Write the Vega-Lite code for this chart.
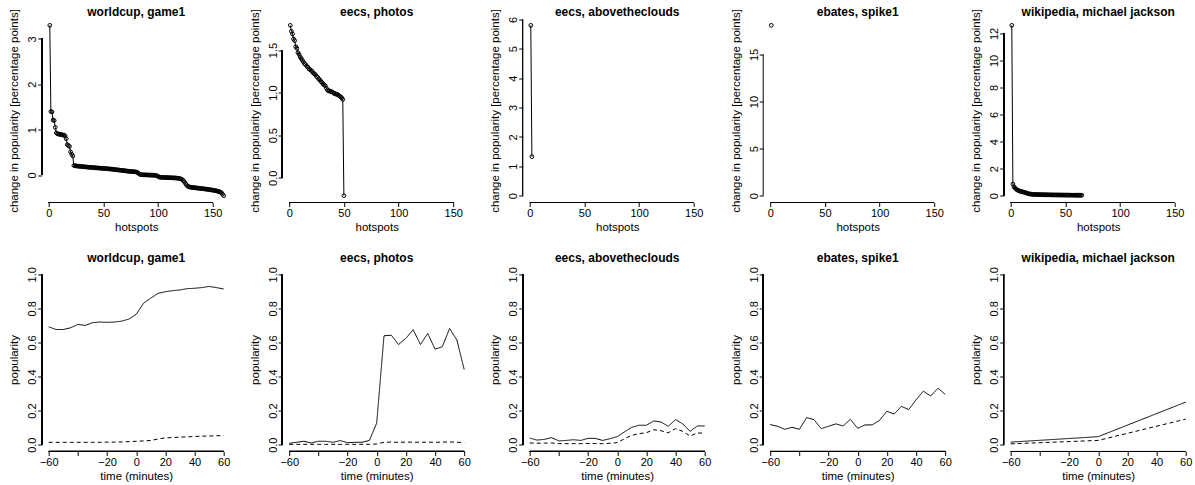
{
"$schema": "https://vega.github.io/schema/vega-lite/v6.json",
"background": "white",
"padding": {"left": 8.7, "top": 5.5, "right": 0, "bottom": 0},
"columns": 5,
"spacing": {"row": 65, "column": 51.5},
"bounds": "flush",
"resolve": {"scale": {"x": "independent", "y": "independent", "strokeDash": "shared"}},
"datasets": {
"top1": [{"hotspot":1,"change":3.30},{"hotspot":2,"change":1.40},{"hotspot":3,"change":1.39},{"hotspot":4,"change":1.21},{"hotspot":5,"change":1.20},{"hotspot":6,"change":1.05},{"hotspot":7,"change":0.93},{"hotspot":8,"change":0.91},{"hotspot":9,"change":0.90},{"hotspot":10,"change":0.90},{"hotspot":11,"change":0.89},{"hotspot":12,"change":0.89},{"hotspot":13,"change":0.88},{"hotspot":14,"change":0.88},{"hotspot":15,"change":0.86},{"hotspot":16,"change":0.80},{"hotspot":17,"change":0.67},{"hotspot":18,"change":0.65},{"hotspot":19,"change":0.63},{"hotspot":20,"change":0.51},{"hotspot":21,"change":0.46},{"hotspot":22,"change":0.42},{"hotspot":23,"change":0.21},{"hotspot":24,"change":0.205},{"hotspot":25,"change":0.200},{"hotspot":26,"change":0.197},{"hotspot":27,"change":0.195},{"hotspot":28,"change":0.192},{"hotspot":29,"change":0.190},{"hotspot":30,"change":0.187},{"hotspot":31,"change":0.185},{"hotspot":32,"change":0.182},{"hotspot":33,"change":0.180},{"hotspot":34,"change":0.178},{"hotspot":35,"change":0.175},{"hotspot":36,"change":0.173},{"hotspot":37,"change":0.171},{"hotspot":38,"change":0.169},{"hotspot":39,"change":0.167},{"hotspot":40,"change":0.165},{"hotspot":41,"change":0.163},{"hotspot":42,"change":0.161},{"hotspot":43,"change":0.159},{"hotspot":44,"change":0.157},{"hotspot":45,"change":0.155},{"hotspot":46,"change":0.153},{"hotspot":47,"change":0.151},{"hotspot":48,"change":0.149},{"hotspot":49,"change":0.147},{"hotspot":50,"change":0.145},{"hotspot":51,"change":0.143},{"hotspot":52,"change":0.141},{"hotspot":53,"change":0.139},{"hotspot":54,"change":0.137},{"hotspot":55,"change":0.135},{"hotspot":56,"change":0.133},{"hotspot":57,"change":0.131},{"hotspot":58,"change":0.128},{"hotspot":59,"change":0.125},{"hotspot":60,"change":0.122},{"hotspot":61,"change":0.119},{"hotspot":62,"change":0.116},{"hotspot":63,"change":0.113},{"hotspot":64,"change":0.110},{"hotspot":65,"change":0.107},{"hotspot":66,"change":0.104},{"hotspot":67,"change":0.101},{"hotspot":68,"change":0.098},{"hotspot":69,"change":0.095},{"hotspot":70,"change":0.092},{"hotspot":71,"change":0.089},{"hotspot":72,"change":0.086},{"hotspot":73,"change":0.083},{"hotspot":74,"change":0.080},{"hotspot":75,"change":0.078},{"hotspot":76,"change":0.076},{"hotspot":77,"change":0.074},{"hotspot":78,"change":0.072},{"hotspot":79,"change":0.070},{"hotspot":80,"change":0.066},{"hotspot":81,"change":0.058},{"hotspot":82,"change":0.040},{"hotspot":83,"change":0.020},{"hotspot":84,"change":0.010},{"hotspot":85,"change":0.007},{"hotspot":86,"change":0.005},{"hotspot":87,"change":0.004},{"hotspot":88,"change":0.003},{"hotspot":89,"change":0.002},{"hotspot":90,"change":0.001},{"hotspot":91,"change":0.000},{"hotspot":92,"change":-0.001},{"hotspot":93,"change":-0.002},{"hotspot":94,"change":-0.003},{"hotspot":95,"change":-0.004},{"hotspot":96,"change":-0.005},{"hotspot":97,"change":-0.006},{"hotspot":98,"change":-0.010},{"hotspot":99,"change":-0.018},{"hotspot":100,"change":-0.030},{"hotspot":101,"change":-0.045},{"hotspot":102,"change":-0.050},{"hotspot":103,"change":-0.052},{"hotspot":104,"change":-0.053},{"hotspot":105,"change":-0.054},{"hotspot":106,"change":-0.055},{"hotspot":107,"change":-0.056},{"hotspot":108,"change":-0.057},{"hotspot":109,"change":-0.058},{"hotspot":110,"change":-0.059},{"hotspot":111,"change":-0.060},{"hotspot":112,"change":-0.061},{"hotspot":113,"change":-0.062},{"hotspot":114,"change":-0.063},{"hotspot":115,"change":-0.064},{"hotspot":116,"change":-0.066},{"hotspot":117,"change":-0.068},{"hotspot":118,"change":-0.071},{"hotspot":119,"change":-0.075},{"hotspot":120,"change":-0.080},{"hotspot":121,"change":-0.088},{"hotspot":122,"change":-0.100},{"hotspot":123,"change":-0.120},{"hotspot":124,"change":-0.150},{"hotspot":125,"change":-0.185},{"hotspot":126,"change":-0.220},{"hotspot":127,"change":-0.245},{"hotspot":128,"change":-0.258},{"hotspot":129,"change":-0.265},{"hotspot":130,"change":-0.270},{"hotspot":131,"change":-0.273},{"hotspot":132,"change":-0.276},{"hotspot":133,"change":-0.279},{"hotspot":134,"change":-0.282},{"hotspot":135,"change":-0.285},{"hotspot":136,"change":-0.288},{"hotspot":137,"change":-0.291},{"hotspot":138,"change":-0.294},{"hotspot":139,"change":-0.297},{"hotspot":140,"change":-0.300},{"hotspot":141,"change":-0.303},{"hotspot":142,"change":-0.306},{"hotspot":143,"change":-0.309},{"hotspot":144,"change":-0.312},{"hotspot":145,"change":-0.315},{"hotspot":146,"change":-0.318},{"hotspot":147,"change":-0.322},{"hotspot":148,"change":-0.326},{"hotspot":149,"change":-0.330},{"hotspot":150,"change":-0.334},{"hotspot":151,"change":-0.338},{"hotspot":152,"change":-0.343},{"hotspot":153,"change":-0.348},{"hotspot":154,"change":-0.354},{"hotspot":155,"change":-0.360},{"hotspot":156,"change":-0.368},{"hotspot":157,"change":-0.378},{"hotspot":158,"change":-0.392},{"hotspot":159,"change":-0.425},{"hotspot":160,"change":-0.456}],
"top2": [{"hotspot":1,"change":1.79},{"hotspot":2,"change":1.72},{"hotspot":3,"change":1.69},{"hotspot":4,"change":1.63},{"hotspot":5,"change":1.61},{"hotspot":6,"change":1.54},{"hotspot":7,"change":1.52},{"hotspot":8,"change":1.47},{"hotspot":9,"change":1.45},{"hotspot":10,"change":1.42},{"hotspot":11,"change":1.40},{"hotspot":12,"change":1.38},{"hotspot":13,"change":1.36},{"hotspot":14,"change":1.34},{"hotspot":15,"change":1.33},{"hotspot":16,"change":1.31},{"hotspot":17,"change":1.30},{"hotspot":18,"change":1.28},{"hotspot":19,"change":1.27},{"hotspot":20,"change":1.26},{"hotspot":21,"change":1.25},{"hotspot":22,"change":1.23},{"hotspot":23,"change":1.22},{"hotspot":24,"change":1.21},{"hotspot":25,"change":1.19},{"hotspot":26,"change":1.18},{"hotspot":27,"change":1.16},{"hotspot":28,"change":1.15},{"hotspot":29,"change":1.13},{"hotspot":30,"change":1.12},{"hotspot":31,"change":1.10},{"hotspot":32,"change":1.09},{"hotspot":33,"change":1.08},{"hotspot":34,"change":1.05},{"hotspot":35,"change":1.03},{"hotspot":36,"change":1.02},{"hotspot":37,"change":1.02},{"hotspot":38,"change":1.01},{"hotspot":39,"change":1.01},{"hotspot":40,"change":1.00},{"hotspot":41,"change":0.99},{"hotspot":42,"change":0.99},{"hotspot":43,"change":0.98},{"hotspot":44,"change":0.98},{"hotspot":45,"change":0.97},{"hotspot":46,"change":0.96},{"hotspot":47,"change":0.95},{"hotspot":48,"change":0.94},{"hotspot":49,"change":0.92},{"hotspot":50,"change":-0.21}],
"top3": [{"hotspot":1,"change":5.8},{"hotspot":2,"change":1.33}],
"top4": [{"hotspot":1,"change":18.1}],
"top5": [{"hotspot":1,"change":12.6},{"hotspot":2,"change":0.86},{"hotspot":3,"change":0.66},{"hotspot":4,"change":0.56},{"hotspot":5,"change":0.48},{"hotspot":6,"change":0.42},{"hotspot":7,"change":0.38},{"hotspot":8,"change":0.35},{"hotspot":9,"change":0.32},{"hotspot":10,"change":0.30},{"hotspot":11,"change":0.28},{"hotspot":12,"change":0.26},{"hotspot":13,"change":0.24},{"hotspot":14,"change":0.21},{"hotspot":15,"change":0.18},{"hotspot":16,"change":0.15},{"hotspot":17,"change":0.13},{"hotspot":18,"change":0.12},{"hotspot":19,"change":0.11},{"hotspot":20,"change":0.10},{"hotspot":21,"change":0.095},{"hotspot":22,"change":0.09},{"hotspot":23,"change":0.088},{"hotspot":24,"change":0.085},{"hotspot":25,"change":0.083},{"hotspot":26,"change":0.08},{"hotspot":27,"change":0.078},{"hotspot":28,"change":0.076},{"hotspot":29,"change":0.074},{"hotspot":30,"change":0.072},{"hotspot":31,"change":0.07},{"hotspot":32,"change":0.068},{"hotspot":33,"change":0.066},{"hotspot":34,"change":0.064},{"hotspot":35,"change":0.062},{"hotspot":36,"change":0.06},{"hotspot":37,"change":0.058},{"hotspot":38,"change":0.057},{"hotspot":39,"change":0.056},{"hotspot":40,"change":0.055},{"hotspot":41,"change":0.054},{"hotspot":42,"change":0.053},{"hotspot":43,"change":0.052},{"hotspot":44,"change":0.051},{"hotspot":45,"change":0.05},{"hotspot":46,"change":0.049},{"hotspot":47,"change":0.048},{"hotspot":48,"change":0.047},{"hotspot":49,"change":0.046},{"hotspot":50,"change":0.045},{"hotspot":51,"change":0.044},{"hotspot":52,"change":0.043},{"hotspot":53,"change":0.042},{"hotspot":54,"change":0.041},{"hotspot":55,"change":0.04},{"hotspot":56,"change":0.039},{"hotspot":57,"change":0.038},{"hotspot":58,"change":0.037},{"hotspot":59,"change":0.036},{"hotspot":60,"change":0.035},{"hotspot":61,"change":0.034},{"hotspot":62,"change":0.033},{"hotspot":63,"change":0.032},{"hotspot":64,"change":0.031},{"hotspot":65,"change":0.03}],
"bot1": [{"minute":-60,"series":"solid","popularity":0.692},{"minute":-55,"series":"solid","popularity":0.676},{"minute":-50,"series":"solid","popularity":0.676},{"minute":-45,"series":"solid","popularity":0.686},{"minute":-40,"series":"solid","popularity":0.706},{"minute":-35,"series":"solid","popularity":0.700},{"minute":-30,"series":"solid","popularity":0.716},{"minute":-25,"series":"solid","popularity":0.720},{"minute":-20,"series":"solid","popularity":0.718},{"minute":-15,"series":"solid","popularity":0.720},{"minute":-10,"series":"solid","popularity":0.725},{"minute":-5,"series":"solid","popularity":0.737},{"minute":0,"series":"solid","popularity":0.765},{"minute":5,"series":"solid","popularity":0.830},{"minute":10,"series":"solid","popularity":0.860},{"minute":15,"series":"solid","popularity":0.888},{"minute":20,"series":"solid","popularity":0.898},{"minute":25,"series":"solid","popularity":0.904},{"minute":30,"series":"solid","popularity":0.908},{"minute":35,"series":"solid","popularity":0.916},{"minute":40,"series":"solid","popularity":0.918},{"minute":45,"series":"solid","popularity":0.922},{"minute":50,"series":"solid","popularity":0.929},{"minute":55,"series":"solid","popularity":0.922},{"minute":60,"series":"solid","popularity":0.914},
{"minute":-60,"series":"dashed","popularity":0.014},{"minute":-55,"series":"dashed","popularity":0.014},{"minute":-50,"series":"dashed","popularity":0.014},{"minute":-45,"series":"dashed","popularity":0.014},{"minute":-40,"series":"dashed","popularity":0.014},{"minute":-35,"series":"dashed","popularity":0.014},{"minute":-30,"series":"dashed","popularity":0.014},{"minute":-25,"series":"dashed","popularity":0.014},{"minute":-20,"series":"dashed","popularity":0.015},{"minute":-15,"series":"dashed","popularity":0.015},{"minute":-10,"series":"dashed","popularity":0.016},{"minute":-5,"series":"dashed","popularity":0.018},{"minute":0,"series":"dashed","popularity":0.020},{"minute":5,"series":"dashed","popularity":0.022},{"minute":10,"series":"dashed","popularity":0.025},{"minute":15,"series":"dashed","popularity":0.033},{"minute":20,"series":"dashed","popularity":0.040},{"minute":25,"series":"dashed","popularity":0.042},{"minute":30,"series":"dashed","popularity":0.044},{"minute":35,"series":"dashed","popularity":0.046},{"minute":40,"series":"dashed","popularity":0.048},{"minute":45,"series":"dashed","popularity":0.050},{"minute":50,"series":"dashed","popularity":0.051},{"minute":55,"series":"dashed","popularity":0.052},{"minute":60,"series":"dashed","popularity":0.054}],
"bot2": [{"minute":-60,"series":"solid","popularity":0.008},{"minute":-55,"series":"solid","popularity":0.014},{"minute":-50,"series":"solid","popularity":0.020},{"minute":-45,"series":"solid","popularity":0.010},{"minute":-40,"series":"solid","popularity":0.020},{"minute":-35,"series":"solid","popularity":0.020},{"minute":-30,"series":"solid","popularity":0.014},{"minute":-25,"series":"solid","popularity":0.024},{"minute":-20,"series":"solid","popularity":0.012},{"minute":-15,"series":"solid","popularity":0.014},{"minute":-10,"series":"solid","popularity":0.014},{"minute":-5,"series":"solid","popularity":0.025},{"minute":0,"series":"solid","popularity":0.127},{"minute":5,"series":"solid","popularity":0.639},{"minute":10,"series":"solid","popularity":0.643},{"minute":15,"series":"solid","popularity":0.588},{"minute":20,"series":"solid","popularity":0.624},{"minute":25,"series":"solid","popularity":0.675},{"minute":30,"series":"solid","popularity":0.588},{"minute":35,"series":"solid","popularity":0.653},{"minute":40,"series":"solid","popularity":0.561},{"minute":45,"series":"solid","popularity":0.575},{"minute":50,"series":"solid","popularity":0.682},{"minute":55,"series":"solid","popularity":0.614},{"minute":60,"series":"solid","popularity":0.441},
{"minute":-60,"series":"dashed","popularity":0.002},{"minute":-55,"series":"dashed","popularity":0.002},{"minute":-50,"series":"dashed","popularity":0.002},{"minute":-45,"series":"dashed","popularity":0.002},{"minute":-40,"series":"dashed","popularity":0.002},{"minute":-35,"series":"dashed","popularity":0.002},{"minute":-30,"series":"dashed","popularity":0.002},{"minute":-25,"series":"dashed","popularity":0.002},{"minute":-20,"series":"dashed","popularity":0.002},{"minute":-15,"series":"dashed","popularity":0.002},{"minute":-10,"series":"dashed","popularity":0.002},{"minute":-5,"series":"dashed","popularity":0.002},{"minute":0,"series":"dashed","popularity":0.004},{"minute":5,"series":"dashed","popularity":0.014},{"minute":10,"series":"dashed","popularity":0.015},{"minute":15,"series":"dashed","popularity":0.014},{"minute":20,"series":"dashed","popularity":0.015},{"minute":25,"series":"dashed","popularity":0.015},{"minute":30,"series":"dashed","popularity":0.014},{"minute":35,"series":"dashed","popularity":0.015},{"minute":40,"series":"dashed","popularity":0.014},{"minute":45,"series":"dashed","popularity":0.015},{"minute":50,"series":"dashed","popularity":0.016},{"minute":55,"series":"dashed","popularity":0.015},{"minute":60,"series":"dashed","popularity":0.010}],
"bot3": [{"minute":-60,"series":"solid","popularity":0.039},{"minute":-55,"series":"solid","popularity":0.027},{"minute":-50,"series":"solid","popularity":0.031},{"minute":-45,"series":"solid","popularity":0.041},{"minute":-40,"series":"solid","popularity":0.022},{"minute":-35,"series":"solid","popularity":0.025},{"minute":-30,"series":"solid","popularity":0.029},{"minute":-25,"series":"solid","popularity":0.025},{"minute":-20,"series":"solid","popularity":0.037},{"minute":-15,"series":"solid","popularity":0.037},{"minute":-10,"series":"solid","popularity":0.025},{"minute":-5,"series":"solid","popularity":0.035},{"minute":0,"series":"solid","popularity":0.047},{"minute":5,"series":"solid","popularity":0.075},{"minute":10,"series":"solid","popularity":0.102},{"minute":15,"series":"solid","popularity":0.114},{"minute":20,"series":"solid","popularity":0.114},{"minute":25,"series":"solid","popularity":0.139},{"minute":30,"series":"solid","popularity":0.133},{"minute":35,"series":"solid","popularity":0.108},{"minute":40,"series":"solid","popularity":0.147},{"minute":45,"series":"solid","popularity":0.122},{"minute":50,"series":"solid","popularity":0.078},{"minute":55,"series":"solid","popularity":0.110},{"minute":60,"series":"solid","popularity":0.110},
{"minute":-60,"series":"dashed","popularity":0.010},{"minute":-55,"series":"dashed","popularity":0.009},{"minute":-50,"series":"dashed","popularity":0.009},{"minute":-45,"series":"dashed","popularity":0.010},{"minute":-40,"series":"dashed","popularity":0.006},{"minute":-35,"series":"dashed","popularity":0.006},{"minute":-30,"series":"dashed","popularity":0.006},{"minute":-25,"series":"dashed","popularity":0.006},{"minute":-20,"series":"dashed","popularity":0.007},{"minute":-15,"series":"dashed","popularity":0.007},{"minute":-10,"series":"dashed","popularity":0.006},{"minute":-5,"series":"dashed","popularity":0.008},{"minute":0,"series":"dashed","popularity":0.012},{"minute":5,"series":"dashed","popularity":0.035},{"minute":10,"series":"dashed","popularity":0.055},{"minute":15,"series":"dashed","popularity":0.065},{"minute":20,"series":"dashed","popularity":0.070},{"minute":25,"series":"dashed","popularity":0.088},{"minute":30,"series":"dashed","popularity":0.082},{"minute":35,"series":"dashed","popularity":0.070},{"minute":40,"series":"dashed","popularity":0.094},{"minute":45,"series":"dashed","popularity":0.078},{"minute":50,"series":"dashed","popularity":0.051},{"minute":55,"series":"dashed","popularity":0.069},{"minute":60,"series":"dashed","popularity":0.067}],
"bot4": [{"minute":-60,"series":"solid","popularity":0.118},{"minute":-55,"series":"solid","popularity":0.108},{"minute":-50,"series":"solid","popularity":0.090},{"minute":-45,"series":"solid","popularity":0.102},{"minute":-40,"series":"solid","popularity":0.090},{"minute":-35,"series":"solid","popularity":0.159},{"minute":-30,"series":"solid","popularity":0.147},{"minute":-25,"series":"solid","popularity":0.094},{"minute":-20,"series":"solid","popularity":0.108},{"minute":-15,"series":"solid","popularity":0.122},{"minute":-10,"series":"solid","popularity":0.110},{"minute":-5,"series":"solid","popularity":0.149},{"minute":0,"series":"solid","popularity":0.096},{"minute":5,"series":"solid","popularity":0.116},{"minute":10,"series":"solid","popularity":0.116},{"minute":15,"series":"solid","popularity":0.143},{"minute":20,"series":"solid","popularity":0.196},{"minute":25,"series":"solid","popularity":0.180},{"minute":30,"series":"solid","popularity":0.225},{"minute":35,"series":"solid","popularity":0.206},{"minute":40,"series":"solid","popularity":0.263},{"minute":45,"series":"solid","popularity":0.314},{"minute":50,"series":"solid","popularity":0.286},{"minute":55,"series":"solid","popularity":0.331},{"minute":60,"series":"solid","popularity":0.296}],
"bot5": [{"minute":-60,"series":"solid","popularity":0.015},{"minute":0,"series":"solid","popularity":0.047},{"minute":60,"series":"solid","popularity":0.250},{"minute":-60,"series":"dashed","popularity":0.005},{"minute":0,"series":"dashed","popularity":0.025},{"minute":60,"series":"dashed","popularity":0.150}]
},
"concat": [
{"width":189,"height":184,"title":{"text":"worldcup, game1","offset":-10.5},"data":{"name":"top1"},
 "layer":[
  {"mark":{"type":"line","color":"black","strokeWidth":1,"point":{"filled":false,"size":14,"color":"black","strokeWidth":1}},
   "encoding":{"x":{"field":"hotspot","type":"quantitative","scale":{"domain":[-6.4,166.4],"nice":false,"zero":false},"axis":{"values":[0,50,100,150],"labelOverlap":false,"title":"hotspots"}},
   "y":{"field":"change","type":"quantitative","scale":{"domain":[-0.606,3.45],"nice":false,"zero":false},"axis":{"values":[0,1,2,3],"labelOverlap":false,"title":"change in popularity [percentage points]"}}}},
  {"mark":{"type":"rule","color":"black","strokeWidth":1},"encoding":{"x":{"datum":-6.4,"type":"quantitative","axis":{"values":[0,50,100,150],"labelOverlap":false,"title":"hotspots"}},"y":{"datum":0,"type":"quantitative","axis":{"values":[0,1,2,3],"labelOverlap":false,"title":"change in popularity [percentage points]"}},"y2":{"datum":3}}},
  {"mark":{"type":"rule","color":"black","strokeWidth":1},"encoding":{"y":{"datum":-0.606,"type":"quantitative","axis":{"values":[0,1,2,3],"labelOverlap":false,"title":"change in popularity [percentage points]"}},"x":{"datum":0,"type":"quantitative","axis":{"values":[0,50,100,150],"labelOverlap":false,"title":"hotspots"}},"x2":{"datum":150}}}
 ]},
{"width":189,"height":184,"title":{"text":"eecs, photos","offset":-10.5},"data":{"name":"top2"},
 "layer":[
  {"mark":{"type":"line","color":"black","strokeWidth":1,"point":{"filled":false,"size":14,"color":"black","strokeWidth":1}},
   "encoding":{"x":{"field":"hotspot","type":"quantitative","scale":{"domain":[-6.4,166.4],"nice":false,"zero":false},"axis":{"values":[0,50,100,150],"labelOverlap":false,"title":"hotspots"}},
   "y":{"field":"change","type":"quantitative","scale":{"domain":[-0.29,1.87],"nice":false,"zero":false},"axis":{"values":[0,0.5,1,1.5],"format":".1f","labelOverlap":false,"title":"change in popularity [percentage points]"}}}},
  {"mark":{"type":"rule","color":"black","strokeWidth":1},"encoding":{"x":{"datum":-6.4,"type":"quantitative","axis":{"values":[0,50,100,150],"labelOverlap":false,"title":"hotspots"}},"y":{"datum":0,"type":"quantitative","axis":{"values":[0,0.5,1,1.5],"format":".1f","labelOverlap":false,"title":"change in popularity [percentage points]"}},"y2":{"datum":1.5}}},
  {"mark":{"type":"rule","color":"black","strokeWidth":1},"encoding":{"y":{"datum":-0.29,"type":"quantitative","axis":{"values":[0,0.5,1,1.5],"format":".1f","labelOverlap":false,"title":"change in popularity [percentage points]"}},"x":{"datum":0,"type":"quantitative","axis":{"values":[0,50,100,150],"labelOverlap":false,"title":"hotspots"}},"x2":{"datum":150}}}
 ]},
{"width":189,"height":184,"title":{"text":"eecs, abovetheclouds","offset":-10.5},"data":{"name":"top3"},
 "layer":[
  {"mark":{"type":"line","color":"black","strokeWidth":1,"point":{"filled":false,"size":14,"color":"black","strokeWidth":1}},
   "encoding":{"x":{"field":"hotspot","type":"quantitative","scale":{"domain":[-6.4,166.4],"nice":false,"zero":false},"axis":{"values":[0,50,100,150],"labelOverlap":false,"title":"hotspots"}},
   "y":{"field":"change","type":"quantitative","scale":{"domain":[-0.232,6.032],"nice":false,"zero":false},"axis":{"values":[0,1,2,3,4,5,6],"labelOverlap":false,"title":"change in popularity [percentage points]"}}}},
  {"mark":{"type":"rule","color":"black","strokeWidth":1},"encoding":{"x":{"datum":-6.4,"type":"quantitative","axis":{"values":[0,50,100,150],"labelOverlap":false,"title":"hotspots"}},"y":{"datum":0,"type":"quantitative","axis":{"values":[0,1,2,3,4,5,6],"labelOverlap":false,"title":"change in popularity [percentage points]"}},"y2":{"datum":6}}},
  {"mark":{"type":"rule","color":"black","strokeWidth":1},"encoding":{"y":{"datum":-0.232,"type":"quantitative","axis":{"values":[0,1,2,3,4,5,6],"labelOverlap":false,"title":"change in popularity [percentage points]"}},"x":{"datum":0,"type":"quantitative","axis":{"values":[0,50,100,150],"labelOverlap":false,"title":"hotspots"}},"x2":{"datum":150}}}
 ]},
{"width":189,"height":184,"title":{"text":"ebates, spike1","offset":-10.5},"data":{"name":"top4"},
 "layer":[
  {"mark":{"type":"line","color":"black","strokeWidth":1,"point":{"filled":false,"size":14,"color":"black","strokeWidth":1}},
   "encoding":{"x":{"field":"hotspot","type":"quantitative","scale":{"domain":[-6.4,166.4],"nice":false,"zero":false},"axis":{"values":[0,50,100,150],"labelOverlap":false,"title":"hotspots"}},
   "y":{"field":"change","type":"quantitative","scale":{"domain":[-0.724,18.824],"nice":false,"zero":false},"axis":{"values":[0,5,10,15],"labelOverlap":false,"title":"change in popularity [percentage points]"}}}},
  {"mark":{"type":"rule","color":"black","strokeWidth":1},"encoding":{"x":{"datum":-6.4,"type":"quantitative","axis":{"values":[0,50,100,150],"labelOverlap":false,"title":"hotspots"}},"y":{"datum":0,"type":"quantitative","axis":{"values":[0,5,10,15],"labelOverlap":false,"title":"change in popularity [percentage points]"}},"y2":{"datum":15}}},
  {"mark":{"type":"rule","color":"black","strokeWidth":1},"encoding":{"y":{"datum":-0.724,"type":"quantitative","axis":{"values":[0,5,10,15],"labelOverlap":false,"title":"change in popularity [percentage points]"}},"x":{"datum":0,"type":"quantitative","axis":{"values":[0,50,100,150],"labelOverlap":false,"title":"hotspots"}},"x2":{"datum":150}}}
 ]},
{"width":189,"height":184,"title":{"text":"wikipedia, michael jackson","offset":-10.5},"data":{"name":"top5"},
 "layer":[
  {"mark":{"type":"line","color":"black","strokeWidth":1,"point":{"filled":false,"size":14,"color":"black","strokeWidth":1}},
   "encoding":{"x":{"field":"hotspot","type":"quantitative","scale":{"domain":[-6.4,166.4],"nice":false,"zero":false},"axis":{"values":[0,50,100,150],"labelOverlap":false,"title":"hotspots"}},
   "y":{"field":"change","type":"quantitative","scale":{"domain":[-0.504,13.104],"nice":false,"zero":false},"axis":{"values":[0,2,4,6,8,10,12],"labelOverlap":false,"title":"change in popularity [percentage points]"}}}},
  {"mark":{"type":"rule","color":"black","strokeWidth":1},"encoding":{"x":{"datum":-6.4,"type":"quantitative","axis":{"values":[0,50,100,150],"labelOverlap":false,"title":"hotspots"}},"y":{"datum":0,"type":"quantitative","axis":{"values":[0,2,4,6,8,10,12],"labelOverlap":false,"title":"change in popularity [percentage points]"}},"y2":{"datum":12}}},
  {"mark":{"type":"rule","color":"black","strokeWidth":1},"encoding":{"y":{"datum":-0.504,"type":"quantitative","axis":{"values":[0,2,4,6,8,10,12],"labelOverlap":false,"title":"change in popularity [percentage points]"}},"x":{"datum":0,"type":"quantitative","axis":{"values":[0,50,100,150],"labelOverlap":false,"title":"hotspots"}},"x2":{"datum":150}}}
 ]},
{"width":189,"height":184,"title":{"text":"worldcup, game1","offset":2},"data":{"name":"bot1"},
 "layer":[
  {"mark":{"type":"line","color":"black","strokeWidth":1},
   "encoding":{"x":{"field":"minute","type":"quantitative","scale":{"domain":[-64.8,64.8],"nice":false,"zero":false},"axis":{"values":[-60,-40,-20,0,20,40,60],"labelOverlap":false,"labelExpr":"datum.value == -40 ? '' : datum.label","title":"time (minutes)"}},
   "y":{"field":"popularity","type":"quantitative","scale":{"domain":[-0.04,1.04],"nice":false,"zero":false},"axis":{"values":[0,0.2,0.4,0.6,0.8,1],"format":".1f","labelOverlap":false,"title":"popularity"}},
   "strokeDash":{"field":"series","type":"nominal","scale":{"domain":["solid","dashed"],"range":[[1,0],[4,3]]},"legend":null}}},
  {"mark":{"type":"rule","color":"black","strokeWidth":1},"encoding":{"x":{"datum":-64.8,"type":"quantitative","axis":{"values":[-60,-40,-20,0,20,40,60],"labelOverlap":false,"labelExpr":"datum.value == -40 ? '' : datum.label","title":"time (minutes)"}},"y":{"datum":0,"type":"quantitative","axis":{"values":[0,0.2,0.4,0.6,0.8,1],"format":".1f","labelOverlap":false,"title":"popularity"}},"y2":{"datum":1}}},
  {"mark":{"type":"rule","color":"black","strokeWidth":1},"encoding":{"y":{"datum":-0.04,"type":"quantitative","axis":{"values":[0,0.2,0.4,0.6,0.8,1],"format":".1f","labelOverlap":false,"title":"popularity"}},"x":{"datum":-60,"type":"quantitative","axis":{"values":[-60,-40,-20,0,20,40,60],"labelOverlap":false,"labelExpr":"datum.value == -40 ? '' : datum.label","title":"time (minutes)"}},"x2":{"datum":60}}}
 ]},
{"width":189,"height":184,"title":{"text":"eecs, photos","offset":2},"data":{"name":"bot2"},
 "layer":[
  {"mark":{"type":"line","color":"black","strokeWidth":1},
   "encoding":{"x":{"field":"minute","type":"quantitative","scale":{"domain":[-64.8,64.8],"nice":false,"zero":false},"axis":{"values":[-60,-40,-20,0,20,40,60],"labelOverlap":false,"labelExpr":"datum.value == -40 ? '' : datum.label","title":"time (minutes)"}},
   "y":{"field":"popularity","type":"quantitative","scale":{"domain":[-0.04,1.04],"nice":false,"zero":false},"axis":{"values":[0,0.2,0.4,0.6,0.8,1],"format":".1f","labelOverlap":false,"title":"popularity"}},
   "strokeDash":{"field":"series","type":"nominal","scale":{"domain":["solid","dashed"],"range":[[1,0],[4,3]]},"legend":null}}},
  {"mark":{"type":"rule","color":"black","strokeWidth":1},"encoding":{"x":{"datum":-64.8,"type":"quantitative","axis":{"values":[-60,-40,-20,0,20,40,60],"labelOverlap":false,"labelExpr":"datum.value == -40 ? '' : datum.label","title":"time (minutes)"}},"y":{"datum":0,"type":"quantitative","axis":{"values":[0,0.2,0.4,0.6,0.8,1],"format":".1f","labelOverlap":false,"title":"popularity"}},"y2":{"datum":1}}},
  {"mark":{"type":"rule","color":"black","strokeWidth":1},"encoding":{"y":{"datum":-0.04,"type":"quantitative","axis":{"values":[0,0.2,0.4,0.6,0.8,1],"format":".1f","labelOverlap":false,"title":"popularity"}},"x":{"datum":-60,"type":"quantitative","axis":{"values":[-60,-40,-20,0,20,40,60],"labelOverlap":false,"labelExpr":"datum.value == -40 ? '' : datum.label","title":"time (minutes)"}},"x2":{"datum":60}}}
 ]},
{"width":189,"height":184,"title":{"text":"eecs, abovetheclouds","offset":2},"data":{"name":"bot3"},
 "layer":[
  {"mark":{"type":"line","color":"black","strokeWidth":1},
   "encoding":{"x":{"field":"minute","type":"quantitative","scale":{"domain":[-64.8,64.8],"nice":false,"zero":false},"axis":{"values":[-60,-40,-20,0,20,40,60],"labelOverlap":false,"labelExpr":"datum.value == -40 ? '' : datum.label","title":"time (minutes)"}},
   "y":{"field":"popularity","type":"quantitative","scale":{"domain":[-0.04,1.04],"nice":false,"zero":false},"axis":{"values":[0,0.2,0.4,0.6,0.8,1],"format":".1f","labelOverlap":false,"title":"popularity"}},
   "strokeDash":{"field":"series","type":"nominal","scale":{"domain":["solid","dashed"],"range":[[1,0],[4,3]]},"legend":null}}},
  {"mark":{"type":"rule","color":"black","strokeWidth":1},"encoding":{"x":{"datum":-64.8,"type":"quantitative","axis":{"values":[-60,-40,-20,0,20,40,60],"labelOverlap":false,"labelExpr":"datum.value == -40 ? '' : datum.label","title":"time (minutes)"}},"y":{"datum":0,"type":"quantitative","axis":{"values":[0,0.2,0.4,0.6,0.8,1],"format":".1f","labelOverlap":false,"title":"popularity"}},"y2":{"datum":1}}},
  {"mark":{"type":"rule","color":"black","strokeWidth":1},"encoding":{"y":{"datum":-0.04,"type":"quantitative","axis":{"values":[0,0.2,0.4,0.6,0.8,1],"format":".1f","labelOverlap":false,"title":"popularity"}},"x":{"datum":-60,"type":"quantitative","axis":{"values":[-60,-40,-20,0,20,40,60],"labelOverlap":false,"labelExpr":"datum.value == -40 ? '' : datum.label","title":"time (minutes)"}},"x2":{"datum":60}}}
 ]},
{"width":189,"height":184,"title":{"text":"ebates, spike1","offset":2},"data":{"name":"bot4"},
 "layer":[
  {"mark":{"type":"line","color":"black","strokeWidth":1},
   "encoding":{"x":{"field":"minute","type":"quantitative","scale":{"domain":[-64.8,64.8],"nice":false,"zero":false},"axis":{"values":[-60,-40,-20,0,20,40,60],"labelOverlap":false,"labelExpr":"datum.value == -40 ? '' : datum.label","title":"time (minutes)"}},
   "y":{"field":"popularity","type":"quantitative","scale":{"domain":[-0.04,1.04],"nice":false,"zero":false},"axis":{"values":[0,0.2,0.4,0.6,0.8,1],"format":".1f","labelOverlap":false,"title":"popularity"}},
   "strokeDash":{"field":"series","type":"nominal","scale":{"domain":["solid","dashed"],"range":[[1,0],[4,3]]},"legend":null}}},
  {"mark":{"type":"rule","color":"black","strokeWidth":1},"encoding":{"x":{"datum":-64.8,"type":"quantitative","axis":{"values":[-60,-40,-20,0,20,40,60],"labelOverlap":false,"labelExpr":"datum.value == -40 ? '' : datum.label","title":"time (minutes)"}},"y":{"datum":0,"type":"quantitative","axis":{"values":[0,0.2,0.4,0.6,0.8,1],"format":".1f","labelOverlap":false,"title":"popularity"}},"y2":{"datum":1}}},
  {"mark":{"type":"rule","color":"black","strokeWidth":1},"encoding":{"y":{"datum":-0.04,"type":"quantitative","axis":{"values":[0,0.2,0.4,0.6,0.8,1],"format":".1f","labelOverlap":false,"title":"popularity"}},"x":{"datum":-60,"type":"quantitative","axis":{"values":[-60,-40,-20,0,20,40,60],"labelOverlap":false,"labelExpr":"datum.value == -40 ? '' : datum.label","title":"time (minutes)"}},"x2":{"datum":60}}}
 ]},
{"width":189,"height":184,"title":{"text":"wikipedia, michael jackson","offset":2},"data":{"name":"bot5"},
 "layer":[
  {"mark":{"type":"line","color":"black","strokeWidth":1},
   "encoding":{"x":{"field":"minute","type":"quantitative","scale":{"domain":[-64.8,64.8],"nice":false,"zero":false},"axis":{"values":[-60,-40,-20,0,20,40,60],"labelOverlap":false,"labelExpr":"datum.value == -40 ? '' : datum.label","title":"time (minutes)"}},
   "y":{"field":"popularity","type":"quantitative","scale":{"domain":[-0.04,1.04],"nice":false,"zero":false},"axis":{"values":[0,0.2,0.4,0.6,0.8,1],"format":".1f","labelOverlap":false,"title":"popularity"}},
   "strokeDash":{"field":"series","type":"nominal","scale":{"domain":["solid","dashed"],"range":[[1,0],[4,3]]},"legend":null}}},
  {"mark":{"type":"rule","color":"black","strokeWidth":1},"encoding":{"x":{"datum":-64.8,"type":"quantitative","axis":{"values":[-60,-40,-20,0,20,40,60],"labelOverlap":false,"labelExpr":"datum.value == -40 ? '' : datum.label","title":"time (minutes)"}},"y":{"datum":0,"type":"quantitative","axis":{"values":[0,0.2,0.4,0.6,0.8,1],"format":".1f","labelOverlap":false,"title":"popularity"}},"y2":{"datum":1}}},
  {"mark":{"type":"rule","color":"black","strokeWidth":1},"encoding":{"y":{"datum":-0.04,"type":"quantitative","axis":{"values":[0,0.2,0.4,0.6,0.8,1],"format":".1f","labelOverlap":false,"title":"popularity"}},"x":{"datum":-60,"type":"quantitative","axis":{"values":[-60,-40,-20,0,20,40,60],"labelOverlap":false,"labelExpr":"datum.value == -40 ? '' : datum.label","title":"time (minutes)"}},"x2":{"datum":60}}}
 ]}
],
"config": {
 "font": "Liberation Sans",
 "view": {"stroke": null},
 "axis": {"grid": false, "domain": false, "tickColor": "black", "tickSize": 4, "tickWidth": 1, "labelColor": "black", "labelFontSize": 11, "labelFont": "Liberation Sans", "titleFont": "Liberation Sans", "titleFontSize": 11.5, "titleFontWeight": "normal", "titleColor": "black", "labelFlush": false, "labelOverlap": false},
 "axisX": {"labelPadding": 1, "titlePadding": 3},
 "axisY": {"labelAngle": 270, "labelAlign": "center", "labelBaseline": "alphabetic", "labelPadding": 2, "titlePadding": 7},
 "title": {"font": "Liberation Sans", "fontSize": 12, "fontWeight": "bold", "color": "black", "frame": "group", "anchor": "middle"}
}
}
